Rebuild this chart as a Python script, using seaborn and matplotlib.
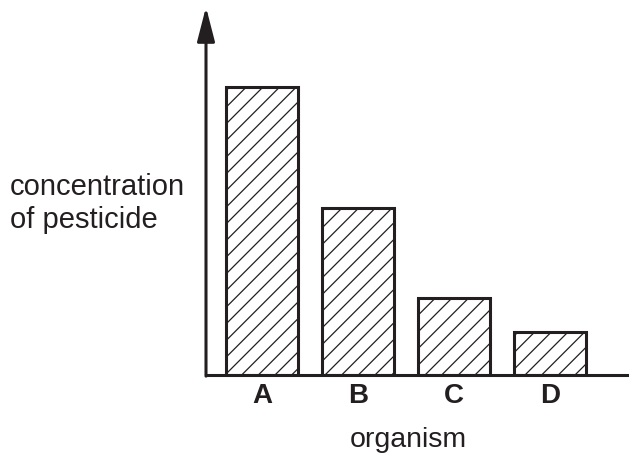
import matplotlib
matplotlib.use('Agg')
import matplotlib.pyplot as plt
import seaborn as sns
import pandas as pd

# data (axis has no scale, pixel heights)
organisms = ['A', 'B', 'C', 'D']
concentration = [288, 167, 77, 43]

ink = '#231f20'
sns.set_style('white')
plt.rcParams['font.family'] = ['Liberation Sans', 'DejaVu Sans']
plt.rcParams['hatch.linewidth'] = 0.9
plt.rcParams['hatch.color'] = ink

df = pd.DataFrame({'organism': organisms, 'conc': concentration})

fig = plt.figure(figsize=(6.29, 4.57), dpi=100)
ax = fig.add_axes([206/629, 82/457, 423/629, 368/457])

sns.barplot(data=df, x='organism', y='conc', ax=ax, color='white', saturation=1,
            edgecolor=ink, linewidth=2.2, width=0.75, hatch='//')

ax.set_xlim(-0.583, 3.823)
ax.set_ylim(0, 368)
ax.set_xlabel('')
ax.set_ylabel('')
ax.set_yticks([])
ax.tick_params(axis='x', length=0, pad=6)
for lab in ax.get_xticklabels():
    lab.set_fontsize(20)
    lab.set_fontweight('bold')
    lab.set_color(ink)

for s in ['top', 'right', 'left']:
    ax.spines[s].set_visible(False)
ax.spines['bottom'].set_linewidth(2.2)
ax.spines['bottom'].set_color(ink)

# y axis arrow
ax.annotate('', xy=(0, 1), xycoords='axes fraction', xytext=(0, -0.003),
            arrowprops=dict(arrowstyle='-|>,head_width=0.54,head_length=2.1',
                            lw=2.2, color=ink, shrinkA=0, shrinkB=0,
                            mutation_scale=10),
            annotation_clip=False)

fig.text(10/629, 1 - 195/457, 'concentration', fontsize=21, color=ink,
         ha='left', va='baseline')
fig.text(10/629, 1 - 228/457, 'of pesticide', fontsize=21, color=ink,
         ha='left', va='baseline')
fig.text(408/629, 1 - 447/457, 'organism', fontsize=20.5, color=ink,
         ha='center', va='baseline')

fig.savefig('out.png', dpi=100)
